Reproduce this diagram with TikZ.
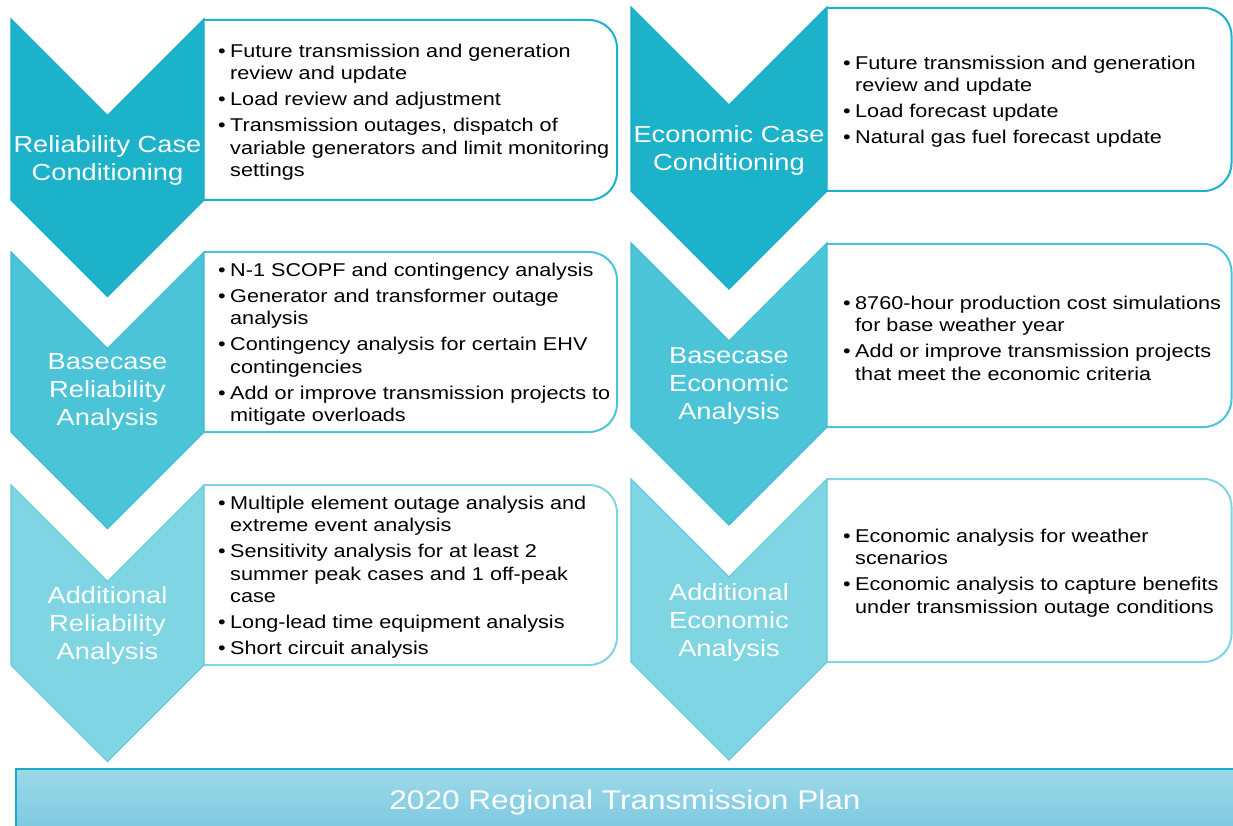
\documentclass[tikz,border=0pt]{standalone}
\usepackage{fontspec}
\setmainfont{Liberation Sans}[FakeStretch=1.17]
\definecolor{cA}{RGB}{28,178,202}
\definecolor{cAline}{RGB}{24,172,198}
\definecolor{cB}{RGB}{75,196,216}
\definecolor{cBline}{RGB}{62,188,210}
\definecolor{cC}{RGB}{127,213,226}
\definecolor{cCline}{RGB}{100,202,219}
\definecolor{barTop}{RGB}{156,217,233}
\definecolor{barBot}{RGB}{124,200,224}
\definecolor{barLine}{RGB}{20,174,200}
\newcommand\bul{\makebox[12pt][l]{\textbullet}}
\newcommand\cnt{\hspace*{12pt}}
\begin{document}
\begin{tikzpicture}[x=1pt,y=-1pt,
  boxline/.style={draw=#1,line width=2pt,fill=white,rounded corners=28pt},
  chevshape/.style={fill=#1,line width=1.2pt,line join=miter},
  steplabel/.style={text=white,align=center,inner sep=0pt,yshift=-2pt,font=\fontsize{23.3}{28}\selectfont},
  bullets/.style={text=black,align=left,anchor=west,inner sep=0pt,yshift=-2pt,font=\fontsize{18.5}{22.5}\selectfont},
  bartext/.style={text=white,inner sep=0pt,yshift=-3pt,font=\fontsize{27}{32}\selectfont}
]
\useasboundingbox (0,0) rectangle (1233,826);

% ---------- boxes (left column)
\path[boxline=cA] (204,20) -- (617,20) -- (617,200) -- (204,200);
\path[boxline=cB] (204,252) -- (617,252) -- (617,432) -- (204,432);
\path[boxline=cC] (204,485) -- (617,485) -- (617,665) -- (204,665);
% ---------- boxes (right column)
\path[boxline=cA] (827,8) -- (1231.5,8) -- (1231.5,191) -- (827,191);
\path[boxline=cB] (827,244) -- (1231.5,244) -- (1231.5,427) -- (827,427);
\path[boxline=cC] (827,479) -- (1231.5,479) -- (1231.5,662) -- (827,662);

% ---------- chevrons (left column)
\path[chevshape=cA,draw=cAline] (11,19) -- (107.5,115.5) -- (204,19) -- (204,200) -- (107.5,296.5) -- (11,200) -- cycle;
\path[chevshape=cB,draw=cBline] (11,252) -- (107.5,348.5) -- (204,252) -- (204,432) -- (107.5,528.5) -- (11,432) -- cycle;
\path[chevshape=cC,draw=cCline] (11,485) -- (107.5,581.5) -- (204,485) -- (204,665) -- (107.5,761.5) -- (11,665) -- cycle;
% ---------- chevrons (right column)
\path[chevshape=cA,draw=cAline] (631,7) -- (729,105) -- (827,7) -- (827,191) -- (729,289) -- (631,191) -- cycle;
\path[chevshape=cB,draw=cBline] (631,243) -- (729,341) -- (827,243) -- (827,427) -- (729,525) -- (631,427) -- cycle;
\path[chevshape=cC,draw=cCline] (631,479) -- (729,577) -- (827,479) -- (827,662) -- (729,760) -- (631,662) -- cycle;

% ---------- chevron labels
\node[steplabel] (l1) at (107.5,158) {Reliability Case\\Conditioning};
\node[steplabel] (l2) at (107.5,390) {Basecase\\Reliability\\Analysis};
\node[steplabel] (l3) at (107.5,623) {Additional\\Reliability\\Analysis};
\node[steplabel] (r1) at (729,148) {Economic Case\\Conditioning};
\node[steplabel] (r2) at (729,384) {Basecase\\Economic\\Analysis};
\node[steplabel] (r3) at (729,620) {Additional\\Economic\\Analysis};

% ---------- bullet texts
\node[bullets] (t1) at (218,110) {\bul Future transmission and generation\\
\cnt review and update\\[3.5pt]
\bul Load review and adjustment\\[3.5pt]
\bul Transmission outages, dispatch of\\
\cnt variable generators and limit monitoring\\
\cnt settings};
\node[bullets] (t2) at (218,342) {\bul N-1 SCOPF and contingency analysis\\[3.5pt]
\bul Generator and transformer outage\\
\cnt analysis\\[3.5pt]
\bul Contingency analysis for certain EHV\\
\cnt contingencies\\[3.5pt]
\bul Add or improve transmission projects to\\
\cnt mitigate overloads};
\node[bullets] (t3) at (218,575) {\bul Multiple element outage analysis and\\
\cnt extreme event analysis\\[3.5pt]
\bul Sensitivity analysis for at least 2\\
\cnt summer peak cases and 1 off-peak\\
\cnt case\\[3.5pt]
\bul Long-lead time equipment analysis\\[3.5pt]
\bul Short circuit analysis};
\node[bullets] (t4) at (843,99.5) {\bul Future transmission and generation\\
\cnt review and update\\[3.5pt]
\bul Load forecast update\\[3.5pt]
\bul Natural gas fuel forecast update};
\node[bullets] (t5) at (843,336) {\bul 8760-hour production cost simulations\\
\cnt for base weather year\\[3.5pt]
\bul Add or improve transmission projects\\
\cnt that meet the economic criteria};
\node[bullets] (t6) at (843,571) {\bul Economic analysis for weather\\
\cnt scenarios\\[3.5pt]
\bul Economic analysis to capture benefits\\
\cnt under transmission outage conditions};

% ---------- bottom bar
\shade[top color=barTop,bottom color=barBot] (16,769) rectangle (1240,832);
\draw[barLine,line width=2.5pt] (16,832) -- (16,769) -- (1240,769);
\node[bartext] (plan) at (625,800) {2020 Regional Transmission Plan};
\end{tikzpicture}
\end{document}
